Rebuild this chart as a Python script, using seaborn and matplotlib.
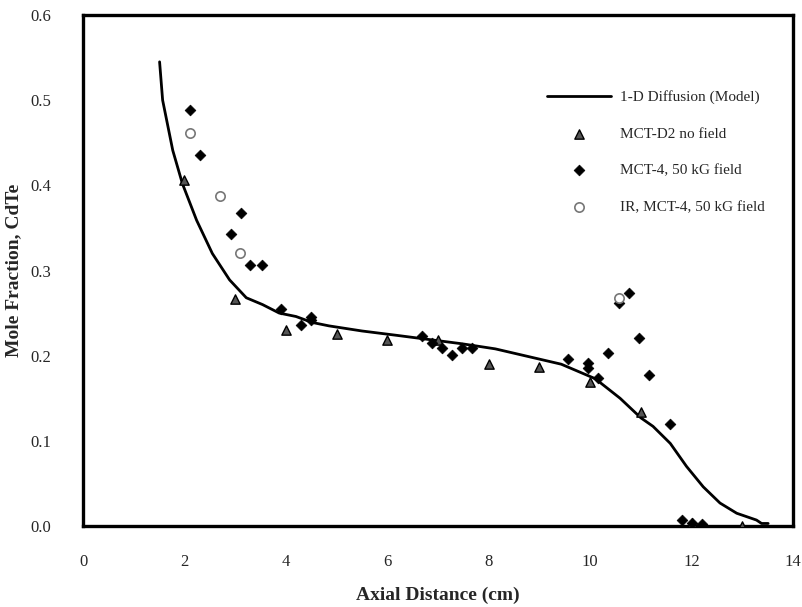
import matplotlib
matplotlib.use("Agg")
import matplotlib.pyplot as plt
import seaborn as sns
import pandas as pd

# Model curve: 1-D Diffusion
model_x = [1.51, 1.57, 1.77, 1.96, 2.24, 2.55, 2.89, 3.22, 3.54, 3.87, 4.20, 4.52, 4.85,
           5.50, 6.17, 6.82, 7.47, 8.13, 8.78, 9.43, 10.10, 10.59, 11.00, 11.24, 11.58,
           11.90, 12.23, 12.56, 12.89, 13.28, 13.38, 13.51]
model_y = [0.545, 0.500, 0.441, 0.402, 0.359, 0.320, 0.289, 0.268, 0.260, 0.250, 0.246, 0.239, 0.235,
           0.229, 0.224, 0.219, 0.214, 0.208, 0.199, 0.190, 0.173, 0.150, 0.127, 0.117, 0.097,
           0.070, 0.046, 0.027, 0.015, 0.007, 0.003, 0.003]

# MCT-D2 no field (triangles)
d2_x = [2.0, 3.0, 4.0, 5.0, 6.0, 7.0, 8.0, 9.0, 10.0, 11.0, 12.0, 13.0]
d2_y = [0.406, 0.266, 0.230, 0.226, 0.218, 0.218, 0.190, 0.187, 0.169, 0.134, 0.004, 0.0]

# MCT-4, 50 kG field (diamonds)
m4_x = [2.10, 2.30, 2.91, 3.12, 3.30, 3.52, 3.90, 4.30, 4.49, 4.49, 6.69, 6.88, 7.08, 7.28,
        7.47, 7.68, 9.57, 9.96, 9.96, 10.16, 10.36, 10.56, 10.77, 10.97, 11.17, 11.58,
        11.81, 12.00, 12.20]
m4_y = [0.489, 0.436, 0.343, 0.367, 0.307, 0.306, 0.255, 0.236, 0.246, 0.242, 0.223, 0.215, 0.209, 0.201,
        0.209, 0.209, 0.196, 0.191, 0.186, 0.174, 0.203, 0.262, 0.274, 0.221, 0.177, 0.120,
        0.007, 0.004, 0.002]

# IR, MCT-4, 50 kG field (open circles)
ir_x = [2.10, 2.71, 3.10, 10.56]
ir_y = [0.462, 0.388, 0.321, 0.268]

x_ticks = [0, 2, 4, 6, 8, 10, 12, 14]
y_ticks = [0.0, 0.1, 0.2, 0.3, 0.4, 0.5, 0.6]

sns.set_style("white")
plt.rcParams["font.family"] = ["Liberation Serif", "DejaVu Serif"]

fig = plt.figure(figsize=(8.02, 6.07), dpi=100)
ax = fig.add_axes([0.1035, 0.1334, 0.8853, 0.8419])

sns.lineplot(x=model_x, y=model_y, ax=ax, color="black", linewidth=2.0,
             label="1-D Diffusion (Model)", sort=False)
sns.scatterplot(x=d2_x, y=d2_y, ax=ax, marker="^", s=45, color="#555555",
                edgecolor="black", linewidth=1.0, label="MCT-D2 no field", zorder=3)
sns.scatterplot(x=m4_x, y=m4_y, ax=ax, marker="D", s=30, color="black",
                edgecolor="black", linewidth=0.5, label="MCT-4, 50 kG field", zorder=4)
sns.scatterplot(x=ir_x, y=ir_y, ax=ax, marker="o", s=45, color="white",
                edgecolor="#777777", linewidth=1.2, label="IR, MCT-4, 50 kG field", zorder=5)

ax.set_xlim(0, 14)
ax.set_ylim(0, 0.6)
ax.set_xticks(x_ticks)
ax.set_xticklabels([str(t) for t in x_ticks])
ax.set_yticks(y_ticks)
ax.set_yticklabels([f"{t:.1f}" for t in y_ticks])
ax.tick_params(axis="x", direction="out", length=6, width=1, labelsize=12, pad=14, color="black")
ax.tick_params(axis="y", direction="inout", length=10, width=1, labelsize=12, pad=18, color="black")

for sp in ax.spines.values():
    sp.set_linewidth(2.4)
    sp.set_color("black")

ax.set_xlabel("Axial Distance (cm)", fontsize=14, fontweight="bold", labelpad=12)
ax.set_ylabel("Mole Fraction, CdTe", fontsize=14, fontweight="bold", labelpad=6)

leg = ax.legend(loc="upper left", bbox_to_anchor=(0.634, 0.88), frameon=False,
                fontsize=11, handlelength=4.2, handletextpad=0.6, labelspacing=1.5)

fig.savefig("out.png", dpi=100)
